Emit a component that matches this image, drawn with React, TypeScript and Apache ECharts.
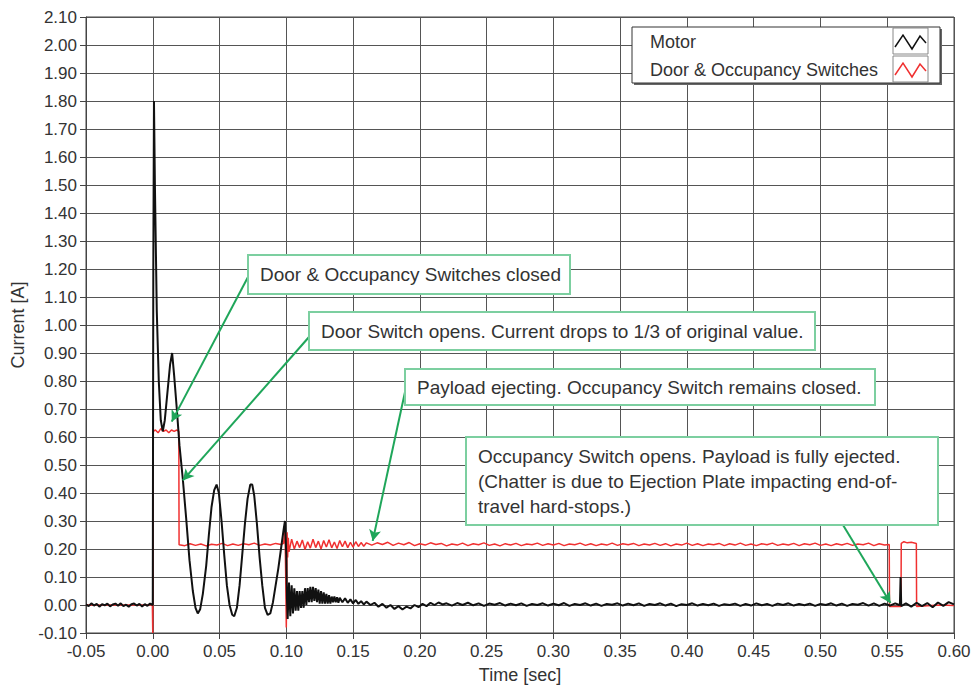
import React, { useEffect, useRef } from "react";
import * as echarts from "echarts";

const FONT = '"Liberation Sans", Arial, sans-serif';

// Axis ranges (tick labels come from these)
const xRange = { min: -0.05, max: 0.6, interval: 0.05 };
const yRange = { min: -0.1, max: 2.1, interval: 0.1 };

const seriesNames = ["Motor", "Door & Occupancy Switches"];

// ---- Motor current [t (s), I (A)] ----
const motorPre: [number, number][] = [
  [-0.05, 0.002], [-0.048, -0.004], [-0.046, 0.006], [-0.044, -0.002], [-0.042, 0.004],
  [-0.04, -0.006], [-0.038, 0.003], [-0.036, -0.001], [-0.034, 0.005], [-0.032, -0.005],
  [-0.03, 0.002], [-0.028, 0.005], [-0.026, -0.003], [-0.024, 0.006], [-0.022, -0.004],
  [-0.02, 0.001], [-0.018, -0.006], [-0.016, 0.003], [-0.014, 0.005], [-0.012, -0.002],
  [-0.01, 0.004], [-0.008, -0.005], [-0.006, 0.003], [-0.004, -0.003], [-0.002, 0.005],
  [0.0, 0.0],
];

const motorTransient: [number, number][] = [
  [0.0004, 1.2], [0.0009, 1.8], [0.0016, 1.5], [0.003, 1.05], [0.0045, 0.8], [0.006, 0.66],
  [0.0075, 0.62], [0.009, 0.66], [0.011, 0.76], [0.013, 0.86], [0.0145, 0.9], [0.016, 0.82],
  [0.018, 0.7], [0.02, 0.57], [0.0225, 0.45], [0.025, 0.31], [0.0275, 0.16], [0.03, 0.05],
  [0.032, -0.01], [0.0337, -0.03], [0.0355, -0.015], [0.0375, 0.04], [0.04, 0.14],
  [0.042, 0.25], [0.044, 0.35], [0.046, 0.41], [0.0478, 0.43], [0.0495, 0.4], [0.0515, 0.3],
  [0.0535, 0.18], [0.0555, 0.07], [0.0575, 0.0], [0.0595, -0.035], [0.061, -0.04],
  [0.063, -0.01], [0.065, 0.07], [0.067, 0.18], [0.069, 0.29], [0.071, 0.38], [0.073, 0.43],
  [0.0745, 0.43], [0.076, 0.39], [0.078, 0.29], [0.08, 0.17], [0.082, 0.07], [0.084, -0.01],
  [0.086, -0.035], [0.088, -0.03], [0.09, 0.01], [0.092, 0.07], [0.094, 0.13], [0.096, 0.2],
  [0.098, 0.27], [0.099, 0.3], [0.1, 0.18], [0.1005, 0.02],
];

const motorRinging: [number, number][] = [
  [0.101, -0.05], [0.102, 0.08], [0.103, -0.04], [0.104, 0.07], [0.105, -0.03], [0.106, 0.06],
  [0.107, -0.02], [0.108, 0.05], [0.109, -0.02], [0.11, 0.05], [0.111, -0.01], [0.112, 0.05],
  [0.113, -0.01], [0.114, 0.06], [0.115, 0.0], [0.116, 0.06], [0.117, 0.01], [0.118, 0.065],
  [0.119, 0.01], [0.12, 0.065], [0.121, 0.015], [0.122, 0.06], [0.123, 0.01], [0.124, 0.055],
  [0.125, 0.005], [0.126, 0.05], [0.127, 0.005], [0.128, 0.045], [0.129, 0.005], [0.13, 0.04],
  [0.131, 0.005], [0.132, 0.035], [0.133, 0.005], [0.134, 0.03], [0.135, 0.01], [0.136, 0.03],
  [0.137, 0.01], [0.138, 0.028], [0.139, 0.008], [0.14, 0.026], [0.142, 0.01], [0.144, 0.024],
  [0.146, 0.008], [0.148, 0.02], [0.15, 0.006], [0.152, 0.018], [0.154, 0.004], [0.156, 0.014],
  [0.158, 0.002], [0.16, 0.012], [0.163, 0.0], [0.166, 0.008], [0.169, -0.006], [0.172, 0.004],
  [0.175, -0.01], [0.178, 0.0], [0.181, -0.014], [0.184, -0.004], [0.187, -0.016],
  [0.19, -0.006], [0.193, -0.012], [0.196, 0.0], [0.199, -0.008], [0.202, 0.004],
  [0.205, -0.004], [0.208, 0.008], [0.211, 0.0], [0.214, 0.009], [0.217, 0.002],
];

const motorTail: [number, number][] = [
  [0.22, 0.006], [0.224, -0.002], [0.228, 0.007], [0.232, 0.0], [0.236, 0.008], [0.24, -0.001],
  [0.244, 0.006], [0.248, -0.003], [0.252, 0.005], [0.256, 0.001], [0.26, 0.007], [0.264, -0.002],
  [0.268, 0.005], [0.272, -0.001], [0.276, 0.006], [0.28, -0.003], [0.284, 0.004], [0.288, 0.0],
  [0.292, 0.006], [0.296, -0.002], [0.3, 0.005], [0.304, -0.001], [0.308, 0.007], [0.312, -0.003],
  [0.316, 0.004], [0.32, 0.0], [0.324, 0.006], [0.328, -0.002], [0.332, 0.005], [0.336, -0.003],
  [0.34, 0.004], [0.344, 0.001], [0.348, 0.006], [0.352, -0.002], [0.356, 0.005], [0.36, -0.001],
  [0.364, 0.006], [0.368, -0.003], [0.372, 0.004], [0.376, 0.0], [0.38, 0.006], [0.384, -0.002],
  [0.388, 0.005], [0.392, -0.004], [0.396, 0.003], [0.4, 0.0], [0.404, 0.006], [0.408, -0.002],
  [0.412, 0.004], [0.416, -0.001], [0.42, 0.005], [0.424, -0.003], [0.428, 0.003], [0.432, 0.0],
  [0.436, 0.005], [0.44, -0.003], [0.444, 0.004], [0.448, -0.002], [0.452, 0.006], [0.456, -0.001],
  [0.46, 0.004], [0.464, -0.003], [0.468, 0.005], [0.472, 0.0], [0.476, 0.006], [0.48, -0.002],
  [0.484, 0.004], [0.488, -0.001], [0.492, 0.005], [0.496, -0.003], [0.5, 0.004], [0.504, 0.0],
  [0.508, 0.006], [0.512, -0.002], [0.516, 0.005], [0.52, -0.003], [0.524, 0.004], [0.528, 0.001],
  [0.532, 0.007], [0.536, -0.002], [0.54, 0.006], [0.544, -0.003], [0.548, 0.005], [0.552, -0.002],
  [0.556, 0.006], [0.559, 0.0], [0.5595, 0.002], [0.56, 0.1], [0.5605, -0.004], [0.564, 0.006],
  [0.568, -0.006], [0.572, 0.008], [0.576, -0.004], [0.58, 0.007], [0.584, -0.008], [0.588, 0.009],
  [0.592, -0.003], [0.596, 0.01], [0.6, 0.002],
];

// ---- Door & occupancy switch current [t (s), I (A)] ----
const switchStep: [number, number][] = [
  [-0.05, 0.0], [-0.0003, 0.0], [0.0, -0.1], [0.0003, 0.62], [0.002, 0.625], [0.004, 0.615],
  [0.006, 0.63], [0.008, 0.62], [0.01, 0.625], [0.012, 0.615], [0.014, 0.625], [0.016, 0.62],
  [0.018, 0.625], [0.0195, 0.62], [0.0197, 0.215],
];

const switchBand1: [number, number][] = [
  [0.024, 0.212], [0.028, 0.219], [0.032, 0.213], [0.036, 0.218], [0.04, 0.211], [0.044, 0.217],
  [0.048, 0.214], [0.052, 0.22], [0.056, 0.212], [0.06, 0.218], [0.064, 0.213], [0.068, 0.219],
  [0.072, 0.215], [0.076, 0.221], [0.08, 0.213], [0.084, 0.218], [0.088, 0.214], [0.092, 0.22],
  [0.096, 0.216], [0.098, 0.22], [0.099, 0.28], [0.0995, 0.12], [0.1, -0.08], [0.1003, 0.05],
  [0.1006, 0.26], [0.101, 0.17], [0.1015, 0.24], [0.102, 0.19],
];

const switchBand2: [number, number][] = [
  [0.104, 0.235], [0.106, 0.2], [0.108, 0.228], [0.11, 0.205], [0.112, 0.232], [0.114, 0.198],
  [0.116, 0.226], [0.118, 0.203], [0.12, 0.235], [0.122, 0.205], [0.124, 0.228], [0.126, 0.2],
  [0.128, 0.23], [0.13, 0.207], [0.132, 0.233], [0.134, 0.204], [0.136, 0.225], [0.138, 0.202],
  [0.14, 0.23], [0.142, 0.208], [0.144, 0.228], [0.146, 0.205], [0.148, 0.224], [0.15, 0.207],
  [0.152, 0.226], [0.154, 0.209], [0.156, 0.223], [0.158, 0.21], [0.16, 0.222],
];

const switchBand3: [number, number][] = [
  [0.164, 0.214], [0.168, 0.222], [0.172, 0.216], [0.176, 0.224], [0.18, 0.213], [0.184, 0.221],
  [0.188, 0.215], [0.192, 0.223], [0.196, 0.212], [0.2, 0.219], [0.204, 0.214], [0.208, 0.222],
  [0.212, 0.216], [0.216, 0.22], [0.22, 0.211], [0.224, 0.218], [0.228, 0.214], [0.232, 0.221],
  [0.236, 0.212], [0.24, 0.219], [0.244, 0.215], [0.248, 0.222], [0.252, 0.213], [0.256, 0.218],
  [0.26, 0.211], [0.264, 0.219], [0.268, 0.214], [0.272, 0.22], [0.276, 0.212], [0.28, 0.218],
  [0.284, 0.215], [0.288, 0.221], [0.292, 0.213], [0.296, 0.219], [0.3, 0.214], [0.304, 0.22],
  [0.308, 0.212], [0.312, 0.218], [0.316, 0.215], [0.32, 0.221], [0.324, 0.213], [0.328, 0.219],
  [0.332, 0.212], [0.336, 0.218], [0.34, 0.214], [0.344, 0.221], [0.348, 0.213], [0.352, 0.219],
  [0.356, 0.215], [0.36, 0.22], [0.364, 0.212], [0.368, 0.218], [0.372, 0.214], [0.376, 0.22],
  [0.38, 0.213], [0.384, 0.219], [0.388, 0.211], [0.392, 0.218], [0.396, 0.214], [0.4, 0.221],
  [0.404, 0.213], [0.408, 0.219], [0.412, 0.212], [0.416, 0.218], [0.42, 0.215], [0.424, 0.22],
  [0.428, 0.212], [0.432, 0.219], [0.436, 0.214], [0.44, 0.221], [0.444, 0.213], [0.448, 0.218],
  [0.452, 0.212], [0.456, 0.219], [0.46, 0.215], [0.464, 0.221], [0.468, 0.213], [0.472, 0.218],
  [0.476, 0.214], [0.48, 0.22], [0.484, 0.212], [0.488, 0.219], [0.492, 0.215], [0.496, 0.221],
  [0.5, 0.213], [0.504, 0.218], [0.508, 0.212], [0.512, 0.219], [0.516, 0.214], [0.52, 0.22],
  [0.524, 0.213], [0.528, 0.218], [0.532, 0.215], [0.536, 0.221], [0.54, 0.212], [0.544, 0.219],
  [0.548, 0.214], [0.5515, 0.216],
];

const switchChatter: [number, number][] = [
  [0.5517, -0.005], [0.5603, -0.005], [0.5605, 0.22], [0.5625, 0.226], [0.565, 0.222],
  [0.568, 0.224], [0.5718, 0.22], [0.572, -0.005], [0.58, -0.003], [0.59, 0.0], [0.6, -0.002],
];

// ---- Annotations ----
const noteTexts: string[][] = [
  ["Door & Occupancy Switches closed"],
  ["Door Switch opens. Current drops to 1/3 of original value."],
  ["Payload ejecting. Occupancy Switch remains closed."],
  [
    "Occupancy Switch opens. Payload is fully ejected.",
    "(Chatter is due to Ejection Plate impacting end-of-",
    "travel hard-stops.)",
  ],
];
// arrow targets in data coordinates [t, I]
const noteTargets: [number, number][] = [
  [0.0142, 0.655],
  [0.0225, 0.445],
  [0.1647, 0.229],
  [0.5524, 0.007],
];
// box layout in pixels [x, y, w, h] and arrow start pixels
const noteBoxes = [
  [248, 255, 322, 39],
  [309, 312, 506, 38],
  [405, 369, 470, 36],
  [466, 437, 472, 88],
];
const noteStarts = [
  [248, 277],
  [309, 337],
  [405, 392],
  [843, 525],
];

export default function App() {
  const ref = useRef<HTMLDivElement>(null);

  useEffect(() => {
    document.body.style.margin = "0";
    if (!ref.current) return;
    const chart = echarts.init(ref.current, null, { renderer: "svg" });

    const motorData = [...motorPre, ...motorTransient, ...motorRinging, ...motorTail];
    const switchData = [...switchStep, ...switchBand1, ...switchBand2, ...switchBand3, ...switchChatter];

    const green = "#1fa65a";
    const boxStroke = "#7ccfa0";
    const graphics: any[] = [];

    noteBoxes.forEach((b, i) => {
      graphics.push({
        type: "rect",
        z: 100,
        shape: { x: b[0], y: b[1], width: b[2], height: b[3] },
        style: { fill: "#ffffff", stroke: boxStroke, lineWidth: 2 },
      });
      const lines = noteTexts[i];
      const lh = 25;
      const startY = b[1] + b[3] / 2 - ((lines.length - 1) * lh) / 2;
      lines.forEach((t, j) => {
        graphics.push({
          type: "text",
          z: 101,
          x: b[0] + 12,
          y: startY + j * lh,
          style: { text: t, font: `19px ${FONT}`, fill: "#333", verticalAlign: "middle", align: "left" },
        });
      });
    });

    // legend
    const lx = 632, ly = 27, lw = 308, lh = 56;
    graphics.push({ type: "rect", z: 100, shape: { x: lx + 2, y: ly + 2, width: lw, height: lh }, style: { fill: "#666" } });
    graphics.push({ type: "rect", z: 101, shape: { x: lx, y: ly, width: lw, height: lh }, style: { fill: "#fff", stroke: "#333", lineWidth: 1 } });
    const iconColors = ["#111", "#f03030"];
    seriesNames.forEach((n, i) => {
      const rowY = ly + i * 28;
      graphics.push({
        type: "text", z: 102, x: lx + 18, y: rowY + 15,
        style: { text: n, font: `18px ${FONT}`, fill: "#333", verticalAlign: "middle" },
      });
      const bx = 893, by = rowY + 1;
      graphics.push({ type: "rect", z: 102, shape: { x: bx, y: by, width: 35, height: 26 }, style: { fill: "#fff", stroke: "#888", lineWidth: 1 } });
      graphics.push({
        type: "polyline", z: 103,
        shape: { points: [[bx + 2, by + 19], [bx + 10, by + 7], [bx + 19, by + 21], [bx + 27, by + 8], [bx + 33, by + 15]] },
        style: { stroke: iconColors[i], lineWidth: 1.5, fill: "none" },
      });
    });

    const axisCommon = {
      type: "value",
      axisLine: { show: true, onZero: false, lineStyle: { color: "#444", width: 1 } },
      axisTick: { show: true, length: 6, lineStyle: { color: "#444" } },
      splitLine: { show: true, lineStyle: { color: "#555", width: 1 } },
      nameTextStyle: { fontSize: 18, color: "#333", fontFamily: FONT },
    };

    chart.setOption({
      animation: false,
      backgroundColor: "#ffffff",
      grid: { left: 86, right: 20, top: 17, bottom: 54, show: true, borderColor: "#444", borderWidth: 1, outerBoundsMode: "none" },
      xAxis: {
        ...axisCommon,
        min: xRange.min, max: xRange.max, interval: xRange.interval,
        name: "Time [sec]", nameLocation: "middle", nameGap: 33,
        axisLabel: { formatter: (v: number) => v.toFixed(2), fontSize: 17, color: "#333", margin: 10, fontFamily: FONT },
      },
      yAxis: {
        ...axisCommon,
        min: yRange.min, max: yRange.max, interval: yRange.interval,
        name: "Current [A]", nameLocation: "middle", nameGap: 56, nameRotate: 90,
        axisLabel: { formatter: (v: number) => v.toFixed(2), fontSize: 17, color: "#333", margin: 9, fontFamily: FONT },
      },
      series: [
        {
          name: seriesNames[1], type: "line", data: switchData, showSymbol: false, symbol: "none",
          lineStyle: { color: "#f03030", width: 1.5 }, z: 2, silent: true,
        },
        {
          name: seriesNames[0], type: "line", data: motorData, showSymbol: false, symbol: "none",
          lineStyle: { color: "#111", width: 2 }, z: 3, silent: true,
          markLine: {
            silent: true, symbol: ["none", "arrow"], symbolSize: [9, 11],
            label: { show: false }, emphasis: { disabled: true },
            lineStyle: { color: green, width: 2, type: "solid" },
            data: noteTargets.map((t, i) => [
              { x: noteStarts[i][0], y: noteStarts[i][1] },
              { coord: t },
            ]),
          },
        },
      ],
      graphic: graphics,
    });

    return () => chart.dispose();
  }, []);

  return <div ref={ref} style={{ width: 974, height: 687 }} />;
}
